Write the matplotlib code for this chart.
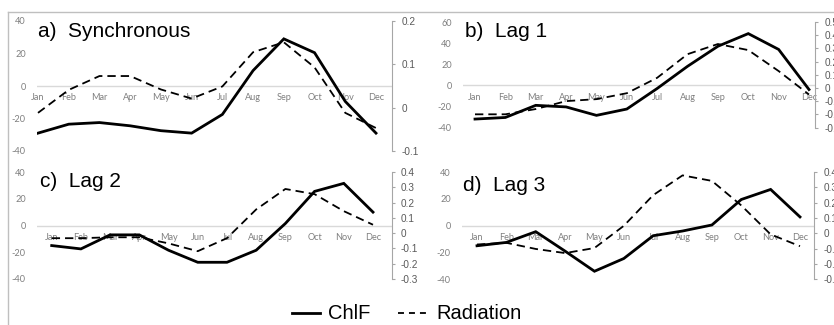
import matplotlib
matplotlib.use("Agg")
import matplotlib.pyplot as plt
from matplotlib.lines import Line2D

months = ["Jan", "Feb", "Mar", "Apr", "May", "Jun", "Jul", "Aug", "Sep", "Oct", "Nov", "Dec"]

panel_titles = ["a)  Synchronous", "b)  Lag 1", "c)  Lag 2", "d)  Lag 3"]

chlf_sync = [-29, -23.5, -22.5, -24.5, -27.5, -29, -17.5, 9.5, 29, 20.5, -9.5, -29]
rad_sync = [-0.012, 0.041, 0.073, 0.073, 0.042, 0.021, 0.049, 0.128, 0.151, 0.093, -0.012, -0.047]

chlf_lag1 = [-32, -30.5, -19, -20.5, -28.5, -22.5, -3, 18, 37, 49, 34, -4]
rad_lag1 = [-0.2, -0.2, -0.16, -0.1, -0.085, -0.04, 0.077, 0.256, 0.333, 0.287, 0.128, -0.05]

chlf_lag2 = [-15, -17.5, -7, -7, -18.5, -27.5, -27.5, -18.5, 1.5, 25.5, 31.5, 10]
rad_lag2 = [-0.033, -0.033, -0.027, -0.027, -0.067, -0.118, -0.033, 0.155, 0.289, 0.255, 0.144, 0.055]

chlf_lag3 = [-15, -12.5, -4.5, -19, -34, -24.5, -7.5, -4, 0.5, 19.5, 27, 6.5]
rad_lag3 = [-0.073, -0.062, -0.102, -0.129, -0.096, 0.049, 0.249, 0.378, 0.342, 0.182, -0.007, -0.084]

chlf_series = [chlf_sync, chlf_lag1, chlf_lag2, chlf_lag3]
rad_series = [rad_sync, rad_lag1, rad_lag2, rad_lag3]

left_ticks = [[-40, -20, 0, 20, 40], [-40, -20, 0, 20, 40, 60], [-40, -20, 0, 20, 40], [-40, -20, 0, 20, 40]]
right_ticks = [[-0.1, 0, 0.1, 0.2],
               [-0.3, -0.2, -0.1, 0, 0.1, 0.2, 0.3, 0.4, 0.5],
               [-0.3, -0.2, -0.1, 0, 0.1, 0.2, 0.3, 0.4],
               [-0.3, -0.2, -0.1, 0, 0.1, 0.2, 0.3, 0.4]]
right_labels = [["-0.1", "0", "0.1", "0.2"],
                ["-0.3", "-0.2", "-0.1", "0", "0.1", "0.2", "0.3", "0.4", "0.5"],
                ["-0.3", "-0.2", "-0.1", "0", "0.1", "0.2", "0.3", "0.4"],
                ["-0.3", "-0.2", "-0.1", "0", "0.1", "0.2", "0.3", "0.4"]]

# ---- layout (pixels) ----
W, H = 834, 325
# box: x0, x1, ytop, ybot ; Jan px, Dec px ; title x, title baseline
boxes = [
    (37, 392, 21, 151, 38, 376, 38.3, 36.7),
    (463, 815, 22, 127.5, 475, 809, 465, 37.3),
    (37, 391.7, 172, 279, 51.7, 373, 40, 187.3),
    (462, 814.3, 172, 279.3, 477, 800, 463, 190.7),
]

plt.rcParams["lines.scale_dashes"] = False
fig = plt.figure(figsize=(W / 100, H / 100), dpi=100)
fig.patch.set_facecolor("white")

def fx(x):
    return x / W

def fy(y):
    return 1 - y / H

gray_lbl = "#7f7f7f"
gray_right = "#595959"
spine_col = "#a6a6a6"
dash = (0, (6, 3.6))

for i in range(4):
    x0, x1, yt, yb, jan, dec, tx, ty = boxes[i]
    ax = fig.add_axes([fx(x0), fy(yb), (x1 - x0) / W, (yb - yt) / H])
    s = (dec - jan) / 11
    xmin = -(jan - x0) / s
    xmax = 11 + (x1 - dec) / s
    lt = left_ticks[i]
    ax.set_xlim(xmin, xmax)
    ax.set_ylim(lt[0], lt[-1])
    for sp in ax.spines.values():
        sp.set_visible(False)
    ax.set_xticks([])
    ax.set_yticks(lt)
    ax.set_yticklabels([str(v) for v in lt], fontfamily="Lato", fontsize=6.6, color=gray_lbl)
    ax.tick_params(axis="y", length=0, pad=8)
    ax.axhline(0, color="#d9d9d9", lw=1.0, zorder=1)
    ax.patch.set_alpha(0)
    for k, m in enumerate(months):
        ax.annotate(m, (k, 0), xytext=(0, -8.6), textcoords="offset points",
                    ha="center", va="center", fontfamily="Lato", fontsize=6.6,
                    color=gray_lbl, zorder=2)
    x = list(range(12))
    ax.plot(x, chlf_series[i], color="black", lw=2.0, zorder=4, solid_joinstyle="miter")

    ax2 = ax.twinx()
    rt = right_ticks[i]
    ax2.set_ylim(rt[0], rt[-1])
    ax2.set_xlim(xmin, xmax)
    for name, sp in ax2.spines.items():
        sp.set_visible(name == "right")
    ax2.spines["right"].set_color(spine_col)
    ax2.spines["right"].set_linewidth(0.8)
    ax2.set_yticks(rt)
    ax2.set_yticklabels(right_labels[i], fontfamily="Liberation Sans", fontsize=7.2, color=gray_right)
    ax2.tick_params(axis="y", direction="out", length=2.2, width=0.8, color=spine_col, pad=4.5)
    ax2.patch.set_alpha(0)
    ax2.plot(x, rad_series[i], color="black", lw=1.3, linestyle=dash, zorder=3)

    fig.text(fx(tx), fy(ty), panel_titles[i], fontfamily="Liberation Sans", fontsize=15,
             ha="left", va="baseline", color="black")

# legend
fig.add_artist(Line2D([fx(291.7), fx(320)], [fy(313.3), fy(313.3)], color="black", lw=2.0))
fig.text(fx(328.3), fy(319.3), "ChlF", fontfamily="Liberation Sans", fontsize=14.5,
         ha="left", va="baseline")
fig.add_artist(Line2D([fx(398.3), fx(428)], [fy(313.3), fy(313.3)], color="black", lw=1.3,
                      linestyle=(0, (4.3, 3.6))))
fig.text(fx(436.7), fy(319.3), "Radiation", fontfamily="Liberation Sans", fontsize=14.5,
         ha="left", va="baseline")

# outer border
fig.add_artist(Line2D([fx(8), fx(834)], [fy(11.5), fy(11.5)], color="#bfbfbf", lw=1.0))
fig.add_artist(Line2D([fx(8), fx(8)], [fy(11.5), fy(325)], color="#bfbfbf", lw=1.0))

fig.savefig("out.png", dpi=100)
